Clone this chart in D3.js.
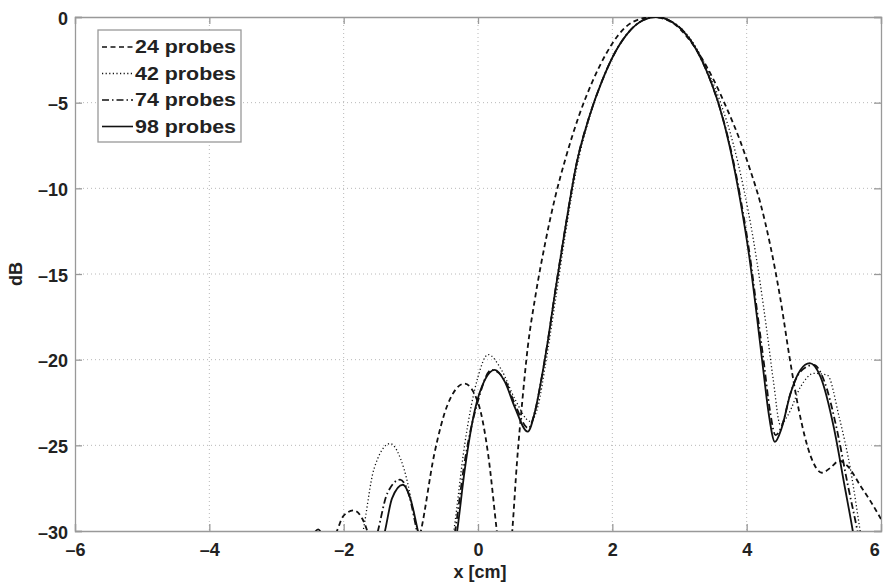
<!DOCTYPE html>
<html>
<head>
<meta charset="utf-8">
<script src="https://cdn.jsdelivr.net/npm/d3@7"></script>
<style>
  body { margin: 0; background: #fff; }
  text { font-family: "Liberation Sans", Arial, sans-serif; font-weight: bold; fill: #222; }
</style>
</head>
<body>
<div id="chart"></div>
<script>
    var w = 883;
    var h = 583;
    var margin = { top: 17, right: 2, bottom: 52, left: 75 };
    var innerW = w - margin.left - margin.right,
        innerH = h - margin.top - margin.bottom;

    var xTicks = [-6, -4, -2, 0, 2, 4, 6];
    var yTicks = [0, -5, -10, -15, -20, -25, -30];
    var seriesNames = ['24 probes', '42 probes', '74 probes', '98 probes'];

    // 24 probes (dashed)
    var x24 = [-2.3, -2.1, -2.0, -1.85, -1.72, -1.62, -1.3, -0.85, -0.65, -0.45, -0.2, 0.0, 0.15, 0.28, 0.4,
               0.51, 0.58, 0.66, 0.74, 0.85, 1.0, 1.15, 1.3, 1.5, 1.7, 1.9, 2.1, 2.3, 2.6, 2.9, 3.1, 3.3,
               3.5, 3.7, 3.9, 4.05, 4.2, 4.35, 4.5, 4.64, 4.78, 4.95, 5.12, 5.25, 5.38, 5.5, 5.7, 5.85, 6.0];
    var y24 = [-32, -30, -29.1, -28.8, -29.3, -30.3, -34, -30, -25.5, -22.6, -21.4, -22.5, -25.5, -30, -34,
               -30, -26.0, -22.4, -19.3, -16.4, -13.2, -10.5, -8.3, -5.8, -3.8, -2.2, -1.0, -0.3, 0, -0.35, -1.1, -2.2,
               -3.6, -5.3, -7.2, -8.9, -10.8, -13.3, -16.4, -19.9, -23.0, -25.6, -26.6, -26.3, -25.9, -26.2, -27.4, -28.3, -29.3];

    // 42 probes (dotted)
    var x42 = [-2.0, -1.71, -1.55, -1.31, -1.1, -0.9, -0.6, -0.36, -0.2, 0.0, 0.15, 0.35, 0.55, 0.78, 0.9,
               1.0, 1.15, 1.3, 1.47, 1.65, 1.85, 2.05, 2.25, 2.45, 2.65, 2.85, 3.05, 3.25, 3.45, 3.62, 3.8,
               3.95, 4.1, 4.2, 4.3, 4.4, 4.5, 4.62, 4.8, 5.0, 5.2, 5.38, 5.55, 5.69, 5.85];
    var y42 = [-35, -30, -26.4, -24.9, -26.4, -30, -35, -30, -25, -21, -19.7, -20.6, -22.3, -23.6, -22.6,
               -20.4, -16.6, -12.7, -8.8, -6.0, -3.7, -2.0, -0.85, -0.2, 0, -0.2, -0.75, -1.8, -3.4, -5.1, -7.4,
               -9.9, -13.0, -15.5, -18.3, -21.3, -23.8, -23.2, -21.6, -20.8, -20.9, -23.4, -26.5, -30, -34];

    // 74 probes (dash-dot)
    var x74 = [-1.8, -1.49, -1.35, -1.16, -1.02, -0.91, -0.6, -0.34, -0.2, 0.0, 0.2, 0.4, 0.55, 0.75, 0.85,
               0.95, 1.04, 1.15, 1.3, 1.47, 1.65, 1.85, 2.05, 2.25, 2.45, 2.65, 2.85, 3.05, 3.25, 3.45, 3.6,
               3.75, 3.9, 4.05, 4.15, 4.26, 4.34, 4.43, 4.53, 4.65, 4.8, 5.0, 5.15, 5.35, 5.5, 5.65, 5.8];
    var y74 = [-35, -30, -27.8, -27.0, -28.0, -30, -35, -30, -26, -22.4, -20.6, -21.2, -22.6, -24.0, -23.0,
               -21.0, -18.9, -16.0, -12.3, -8.5, -5.9, -3.7, -2.0, -0.85, -0.2, 0, -0.2, -0.8, -1.9, -3.6, -5.3,
               -7.5, -10.4, -14.0, -17.0, -20.3, -22.8, -24.4, -23.8, -22.0, -20.7, -20.3, -21.2, -24.2, -27.2, -30, -33];

    // 98 probes (solid)
    var x98 = [-2.55, -2.38, -2.22, -1.9, -1.385, -1.28, -1.12, -1.0, -0.894, -0.6, -0.31, -0.2, -0.05, 0.1,
               0.25, 0.4, 0.55, 0.74, 0.85, 0.95, 1.04, 1.15, 1.3, 1.47, 1.65, 1.85, 2.05, 2.25, 2.45, 2.65,
               2.85, 3.05, 3.25, 3.45, 3.6, 3.75, 3.9, 4.05, 4.15, 4.25, 4.33, 4.42, 4.52, 4.65, 4.8, 4.94,
               5.1, 5.3, 5.45, 5.58, 5.7];
    var y98 = [-31.5, -29.9, -31.5, -36, -30, -28.1, -27.3, -28.2, -30, -35, -30, -26.5, -23.0, -21.2,
               -20.6, -21.3, -22.8, -24.2, -23.0, -21.0, -18.9, -16.0, -12.3, -8.5, -5.9, -3.7, -2.0, -0.85, -0.2, 0,
               -0.2, -0.8, -1.9, -3.6, -5.3, -7.6, -10.6, -14.3, -17.4, -20.7, -23.2, -24.8, -24.0, -22.0, -20.6, -20.2,
               -21.0, -24.0, -27.2, -30, -33];

    var seriesX = [x24, x42, x74, x98];
    var seriesY = [y24, y42, y74, y98];
    var dashes = ['5,3.5', '1.2,2.4', '7,3,1.5,3', null];

    var x = d3.scaleLinear().domain([-6, 6]).range([0, innerW]);
    var y = d3.scaleLinear().domain([-30, 0]).range([innerH, 0]);

    var svg = d3.select('#chart').append('svg')
        .attr('width', w)
        .attr('height', h);

    var g = svg.append('g')
        .attr('transform', 'translate(' + [margin.left, margin.top] + ')');

    // grid
    g.append('g').selectAll('line.vg')
        .data(xTicks.slice(1, -1))
        .enter().append('line')
        .attr('x1', function(d) { return x(d); })
        .attr('x2', function(d) { return x(d); })
        .attr('y1', 0).attr('y2', innerH)
        .style('stroke', '#b8b8b8').style('stroke-dasharray', '1,3');
    g.append('g').selectAll('line.hg')
        .data(yTicks.slice(1, -1))
        .enter().append('line')
        .attr('y1', function(d) { return y(d); })
        .attr('y2', function(d) { return y(d); })
        .attr('x1', 0).attr('x2', innerW)
        .style('stroke', '#b8b8b8').style('stroke-dasharray', '1,3');

    // axes (ticks inside, on all four sides)
    var minus = function(d) { return d < 0 ? '\u2013' + Math.abs(d) : d; };
    var xAxis = d3.axisBottom(x).tickValues(xTicks).tickSize(-7).tickPadding(12).tickFormat(minus);
    var xTop = d3.axisTop(x).tickValues(xTicks).tickSize(-7).tickFormat('');
    var yAxis = d3.axisLeft(y).tickValues(yTicks).tickSize(-7).tickPadding(7).tickFormat(minus);
    var yRight = d3.axisRight(y).tickValues(yTicks).tickSize(-7).tickFormat('');

    var xa = g.append('g').attr('class', 'x axis')
        .attr('transform', 'translate(' + [0, innerH] + ')').call(xAxis);
    g.append('g').attr('class', 'x axis').call(xTop);
    g.append('g').attr('class', 'y axis').call(yAxis);
    g.append('g').attr('class', 'y axis')
        .attr('transform', 'translate(' + [innerW, 0] + ')').call(yRight);

    g.selectAll('.axis path, .axis line').style('stroke', '#999').style('stroke-width', 1.3);
    g.selectAll('.axis text').style('font-size', '18px').style('font-family', '"Liberation Sans", Arial, sans-serif')
        .style('font-weight', 'bold').style('fill', '#222');
    g.selectAll('.y.axis text').attr('dy', '0.4em');
    // last x label sits against the right edge
    xa.selectAll('.tick text').filter(function(d) { return d === 6; })
        .attr('text-anchor', 'end').attr('dx', '-0.1em');

    // curves, clipped to plot area
    svg.append('clipPath').attr('id', 'clip')
        .append('rect').attr('width', innerW).attr('height', innerH);

    var line = d3.line()
        .x(function(d) { return x(d[0]); })
        .y(function(d) { return y(d[1]); })
        .curve(d3.curveMonotoneX);

    var curves = g.append('g').attr('clip-path', 'url(#clip)');
    seriesNames.forEach(function(name, i) {
        var pts = d3.zip(seriesX[i], seriesY[i]);
        curves.append('path')
            .datum(pts)
            .attr('d', line)
            .style('fill', 'none')
            .style('stroke', '#111')
            .style('stroke-width', i === 1 ? 1.3 : 1.8)
            .style('stroke-dasharray', dashes[i]);
    });

    // legend
    var lg = g.append('g').attr('transform', 'translate(' + [23, 13] + ')');
    lg.append('rect')
        .attr('width', 143).attr('height', 112)
        .style('fill', '#fff').style('stroke', '#999').style('stroke-width', 1.3);
    var item = lg.selectAll('.item')
        .data(seriesNames)
        .enter().append('g')
        .attr('transform', function(d, i) { return 'translate(' + [4, 17 + i * 26.5] + ')'; });
    item.append('line')
        .attr('x1', 0).attr('x2', 31).attr('y1', 0).attr('y2', 0)
        .style('stroke', '#111')
        .style('stroke-width', function(d, i) { return i === 1 ? 1.3 : 1.6; })
        .style('stroke-dasharray', function(d, i) { return dashes[i]; });
    item.append('text')
        .attr('x', 33).attr('dy', '0.36em')
        .style('font-size', '18px')
        .attr('textLength', 101)
        .attr('lengthAdjust', 'spacingAndGlyphs')
        .text(function(d) { return d; });

    // axis titles
    g.append('text')
        .attr('x', innerW / 2 + 2).attr('y', innerH + 47)
        .attr('text-anchor', 'middle')
        .style('font-size', '18px')
        .text('x [cm]');
    g.append('text')
        .attr('transform', 'translate(' + [-53, innerH / 2] + ') rotate(-90)')
        .attr('text-anchor', 'middle')
        .style('font-size', '18px')
        .text('dB');
</script>
</body>
</html>
